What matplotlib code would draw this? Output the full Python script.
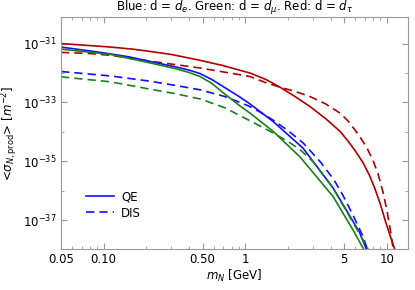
import numpy as np
import matplotlib.pyplot as plt
from matplotlib.ticker import FixedLocator, NullFormatter, FixedFormatter

# values: m_N in GeV, log10 of <sigma> in m^-2
m_red_qe = [0.05, 0.08, 0.112, 0.16, 0.214, 0.3, 0.48, 0.7, 0.92, 1.08, 1.4, 1.76,
            2.3, 2.87, 3.7, 4.67, 5.3, 6.0, 6.8, 7.5, 8.2, 9.0, 9.8, 10.6, 11.4]
s_red_qe = [-31.00, -31.07, -31.12, -31.19, -31.27, -31.37, -31.57, -31.75, -31.91, -32.00, -32.22, -32.48,
            -32.83, -33.14, -33.55, -33.98, -34.30, -34.65, -35.05, -35.45, -35.90, -36.45, -37.05, -37.55, -38.0]

m_red_dis = [0.05, 0.08, 0.112, 0.214, 0.48, 0.92, 1.08, 1.42, 1.76, 2.3, 2.87, 3.7,
             4.67, 5.3, 5.95, 6.63, 7.3, 8.0, 8.7, 9.4, 10.0, 10.6, 11.1]
s_red_dis = [-31.30, -31.34, -31.40, -31.60, -31.83, -32.06, -32.12, -32.34, -32.48, -32.64, -32.80, -33.05,
             -33.36, -33.62, -33.93, -34.25, -34.58, -34.98, -35.45, -36.05, -36.65, -37.35, -38.0]

m_blue_qe = [0.05, 0.095, 0.15, 0.214, 0.32, 0.4, 0.48, 0.58, 0.72, 0.92, 1.08, 1.57, 2.56,
             4.17, 5.49, 6.4, 7.2]
s_blue_qe = [-31.12, -31.30, -31.45, -31.61, -31.79, -31.90, -32.02, -32.22, -32.50, -32.82, -33.05, -33.64, -34.55,
             -35.90, -36.86, -37.40, -38.0]

m_blue_dis = [0.05, 0.112, 0.214, 0.32, 0.48, 0.72, 0.92, 1.08, 1.3, 1.575, 2.0, 2.56,
              3.37, 4.2, 4.9, 5.8, 6.8, 7.3]
s_blue_dis = [-31.95, -32.10, -32.28, -32.42, -32.57, -32.80, -33.00, -33.14, -33.35, -33.60, -33.95, -34.37,
              -35.00, -35.60, -36.15, -36.85, -37.55, -38.0]

m_green_qe = [0.05, 0.112, 0.214, 0.32, 0.4, 0.48, 0.58, 0.72, 0.92, 1.08, 1.575, 2.44,
              4.17, 5.76, 6.9]
s_green_qe = [-31.19, -31.37, -31.66, -31.85, -31.98, -32.12, -32.35, -32.72, -33.12, -33.36, -33.98, -34.85,
              -36.19, -37.32, -38.0]

m_green_dis = [0.05, 0.112, 0.214, 0.32, 0.48, 0.72, 0.92, 1.08, 1.5, 2.0, 2.44,
               3.0, 4.17, 5.5, 6.5, 7.4]
s_green_dis = [-32.13, -32.30, -32.55, -32.70, -32.88, -33.18, -33.45, -33.62, -33.98, -34.32, -34.60,
               -35.00, -35.90, -36.90, -37.50, -38.0]

xticks = [0.05, 0.1, 0.5, 1, 5, 10]
xtick_labels = ["0.05", "0.10", "0.50", "1", "5", "10"]

red = "#b00000"
blue = "#1010ff"
green = "#1a801a"
dash = (5, 3)

fig = plt.figure(figsize=(4.15, 2.9), dpi=100)
ax = fig.add_axes([61/415, 1-249/290, 347/415, 232/290])

ax.plot(m_red_qe, 10.0**np.array(s_red_qe), color=red, lw=1.2)
ax.plot(m_red_dis, 10.0**np.array(s_red_dis), color=red, lw=1.2, dashes=dash)
ax.plot(m_blue_qe, 10.0**np.array(s_blue_qe), color=blue, lw=1.2, label="QE")
ax.plot(m_blue_dis, 10.0**np.array(s_blue_dis), color=blue, lw=1.2, dashes=dash, label="DIS")
ax.plot(m_green_qe, 10.0**np.array(s_green_qe), color=green, lw=1.2)
ax.plot(m_green_dis, 10.0**np.array(s_green_dis), color=green, lw=1.2, dashes=dash)

ax.set_xscale("log")
ax.set_yscale("log")
ax.set_xlim(0.05, 14.1)
ax.set_ylim(10**-37.97, 10**-30.1)

ax.xaxis.set_major_locator(FixedLocator(xticks))
ax.xaxis.set_major_formatter(FixedFormatter(xtick_labels))
minor_x = [v * d for d in (0.01, 0.1, 1) for v in range(2, 10)] + [20]
ax.xaxis.set_minor_locator(FixedLocator(minor_x))
ax.xaxis.set_minor_formatter(NullFormatter())

ax.yaxis.set_major_locator(FixedLocator([1e-37, 1e-35, 1e-33, 1e-31]))
ax.yaxis.set_minor_locator(FixedLocator([1e-38, 1e-36, 1e-34, 1e-32, 1e-30]))
ax.yaxis.set_minor_formatter(NullFormatter())

for s in ax.spines.values():
    s.set_color("#999999")
ax.tick_params(which="both", direction="in", top=True, right=True, color="#999999",
               labelsize=8.5, pad=3)
ax.tick_params(which="major", length=4, width=0.8)
ax.tick_params(which="minor", length=2, width=0.6)

ax.set_title(r"Blue: d = $d_e$. Green: d = $d_\mu$. Red: d = $d_\tau$", fontsize=8.5, pad=3)
ax.set_xlabel(r"$m_N$ [GeV]", fontsize=8.5, labelpad=1)
ax.set_ylabel(r"<$\sigma_{N,\mathrm{prod}}$> [$m^{-2}$]", fontsize=8.5, labelpad=2)

ax.legend(loc="upper left", bbox_to_anchor=(0.04, 0.30), frameon=False, fontsize=8.5,
          handlelength=2.4, handletextpad=0.6, labelspacing=0.3)

fig.savefig("out.png", dpi=100)
